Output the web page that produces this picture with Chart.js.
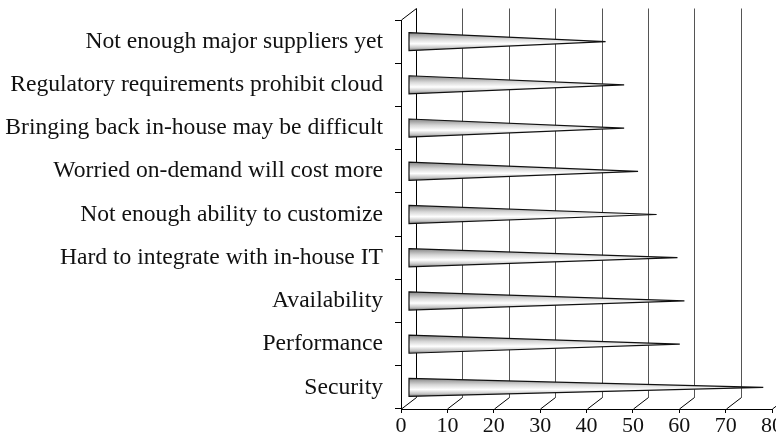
<!DOCTYPE html>
<html>
<head>
<meta charset="utf-8">
<script src="https://cdn.jsdelivr.net/npm/chart.js@4/dist/chart.umd.min.js"></script>
<style>
  html, body { margin: 0; padding: 0; background: #fff; }
  #wrap { width: 776px; height: 439px; }
</style>
</head>
<body>
<div id="wrap"><canvas id="chart"></canvas></div>
<script>
// categories top to bottom
const categories = [
  'Not enough major suppliers yet',
  'Regulatory requirements prohibit cloud',
  'Bringing back in-house may be difficult',
  'Worried on-demand will cost more',
  'Not enough ability to customize',
  'Hard to integrate with in-house IT',
  'Availability',
  'Performance',
  'Security'
];
const values = [42.5, 46.5, 46.5, 49.5, 53.5, 58, 59.5, 58.5, 76.5];
const xTicks = [0, 10, 20, 30, 40, 50, 60, 70, 80];

const DEPTH_X = 15;   // back wall offset
const DEPTH_Y = 11.5;
const FONT = '"Liberation Serif", "DejaVu Serif", serif';

// draws the back wall, floor lines and the cones
const cones3d = {
  id: 'cones3d',
  beforeDatasetsDraw(chart) {
    const { ctx, chartArea: a, scales: { x } } = chart;
    ctx.save();
    ctx.lineWidth = 1;
    xTicks.forEach((v) => {
      const px = Math.round(x.getPixelForValue(v)) + 0.5;
      // back wall gridline
      ctx.strokeStyle = v === 0 ? '#000' : '#555';
      ctx.beginPath();
      ctx.moveTo(px + DEPTH_X, a.top - DEPTH_Y);
      ctx.lineTo(px + DEPTH_X, a.bottom - DEPTH_Y);
      ctx.stroke();
      // floor diagonal
      ctx.strokeStyle = '#000';
      ctx.beginPath();
      ctx.moveTo(px, a.bottom);
      ctx.lineTo(px + DEPTH_X, a.bottom - DEPTH_Y);
      ctx.stroke();
    });
    // top of side wall
    const lx = Math.round(a.left) + 0.5;
    ctx.beginPath();
    ctx.moveTo(lx, a.top);
    ctx.lineTo(lx + DEPTH_X, a.top - DEPTH_Y);
    ctx.stroke();
    ctx.restore();
  },
  afterDatasetsDraw(chart) {
    const { ctx } = chart;
    const meta = chart.getDatasetMeta(0);
    const shift = DEPTH_X / 2;
    ctx.save();
    meta.data.forEach((bar) => {
      const { x, y, base, height } = bar.getProps(['x', 'y', 'base', 'height'], true);
      const top = y - height / 2;
      const bot = y + height / 2;
      const x0 = base + shift;
      const x1 = x + shift;
      const g = ctx.createLinearGradient(0, top, 0, bot);
      g.addColorStop(0, '#858585');
      g.addColorStop(0.35, '#d6d6d6');
      g.addColorStop(0.62, '#ffffff');
      g.addColorStop(0.85, '#c4c4c4');
      g.addColorStop(1, '#7a7a7a');
      ctx.fillStyle = g;
      ctx.beginPath();
      ctx.moveTo(x0, top);
      ctx.lineTo(x1, y);
      ctx.lineTo(x0, bot);
      ctx.closePath();
      ctx.fill();
      ctx.strokeStyle = '#111';
      ctx.lineWidth = 1.2;
      ctx.stroke();
    });
    ctx.restore();
  }
};

new Chart(document.getElementById('chart'), {
  type: 'bar',
  data: {
    labels: categories,
    datasets: [{
      data: values,
      backgroundColor: 'rgba(0,0,0,0)',
      borderWidth: 0,
      barPercentage: 0.84,
      categoryPercentage: 0.5
    }]
  },
  options: {
    indexAxis: 'y',
    responsive: true,
    maintainAspectRatio: false,
    animation: false,
    layout: { padding: { top: 20, right: 4, left: 0, bottom: 0 } },
    plugins: { legend: { display: false }, tooltip: { enabled: false } },
    scales: {
      x: {
        min: 0,
        max: 80,
        afterBuildTicks: (s) => { s.ticks = xTicks.map(v => ({ value: v })); },
        afterFit: (s) => { s.height = 30; s.paddingLeft = 0; s.paddingRight = 0; },
        grid: { drawOnChartArea: false, tickLength: 4, color: '#000' },
        border: { color: '#000', width: 1 },
        ticks: { color: '#111', padding: 0, maxRotation: 0, font: { family: FONT, size: 22 } }
      },
      y: {
        afterFit: (s) => { s.width = 401; s.paddingTop = 0; s.paddingBottom = 0; },
        grid: { drawOnChartArea: false, tickLength: 6, color: '#000', offset: true },
        border: { color: '#000', width: 1 },
        ticks: { color: '#111', padding: 12, autoSkip: false, font: { family: FONT, size: 23.6 } }
      }
    }
  },
  plugins: [cones3d]
});
</script>
</body>
</html>
